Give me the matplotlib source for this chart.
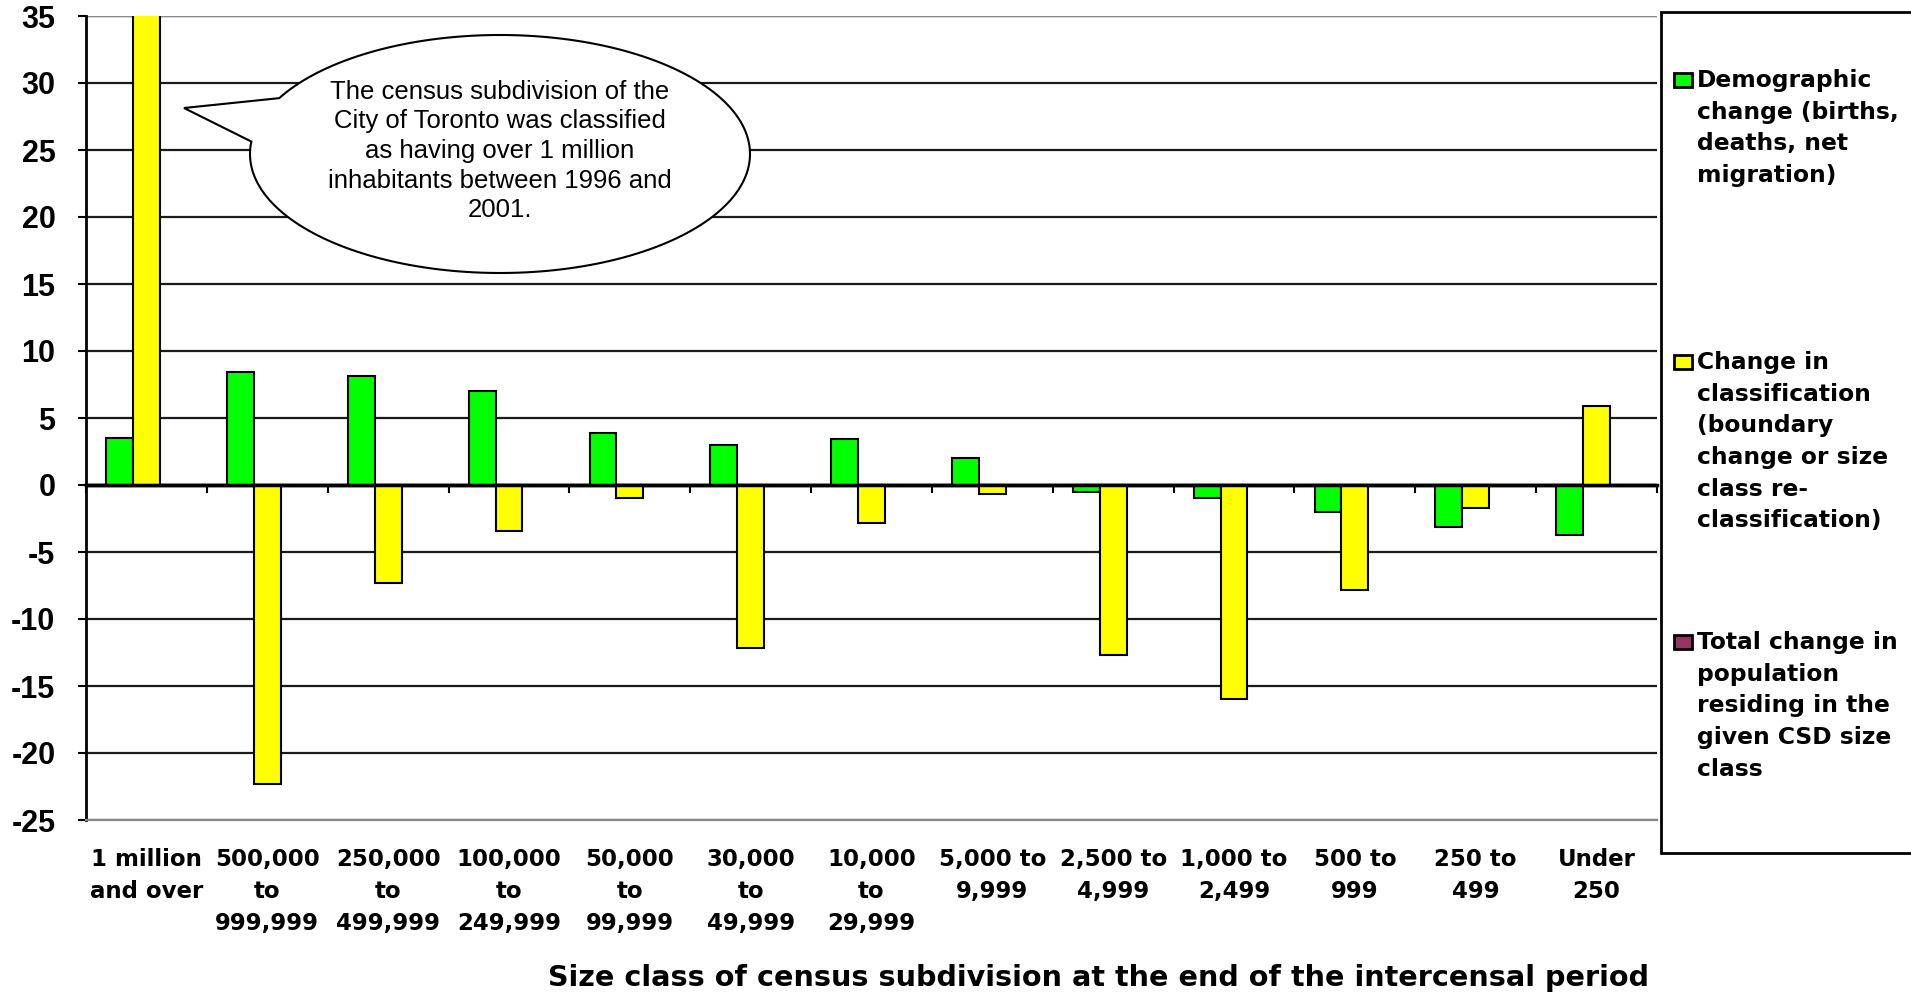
import numpy as np
import matplotlib
matplotlib.use("Agg")
import matplotlib.pyplot as plt
from matplotlib.patches import Rectangle, PathPatch
from matplotlib.path import Path
from matplotlib import transforms

plt.rcParams["axes.unicode_minus"] = False

# size classes (end of intercensal period)
categories = ["1 million\nand over", "500,000\nto\n999,999", "250,000\nto\n499,999",
              "100,000\nto\n249,999", "50,000\nto\n99,999", "30,000\nto\n49,999",
              "10,000\nto\n29,999", "5,000 to\n9,999", "2,500 to\n4,999",
              "1,000 to\n2,499", "500 to\n999", "250 to\n499", "Under\n250"]

demographic = [3.5, 8.4, 8.1, 7.0, 3.9, 2.95, 3.4, 2.0, -0.5, -0.95, -2.05, -3.15, -3.7]
reclass = [40.0, -22.3, -7.35, -3.45, -0.95, -12.2, -2.8, -0.65, -12.7, -15.95, -7.8, -1.7, 5.9]
total = [np.nan] * 13

series_names = ["Demographic\nchange (births,\ndeaths, net\nmigration)",
                "Change in\nclassification\n(boundary\nchange or size\nclass re-\nclassification)",
                "Total change in\npopulation\nresiding in the\ngiven CSD size\nclass"]
colors = ["#00FF00", "#FFFF00", "#993366"]

W, H = 1911, 994
fig = plt.figure(figsize=(W / 100, H / 100), dpi=100)
px = transforms.Affine2D().scale(1 / W, 1 / H) + fig.transFigure  # pixel coords, y up

ax = fig.add_axes([86 / W, 1 - 820 / H, (1657 - 86) / W, (820 - 16) / H])

x = np.arange(len(categories))
bw = 0.222
for i, vals in enumerate([demographic, reclass, total]):
    ax.bar(x + (i - 1) * bw, vals, bw, color=colors[i], edgecolor="black",
           linewidth=1.5, zorder=3)

ax.set_xlim(-0.5, len(categories) - 0.5)
ax.set_ylim(-25, 35)
ax.set_yticks(np.arange(-25, 36, 5))
ax.yaxis.grid(True, color="#1a1a1a", linewidth=1.6, zorder=0)
ax.set_axisbelow(True)

for s in ["top", "right"]:
    ax.spines[s].set_visible(False)
ax.spines["left"].set_linewidth(2)
ax.spines["bottom"].set_color("#888888")
ax.spines["bottom"].set_linewidth(1.6)
ax.axhline(35, color="#888888", linewidth=1.6, zorder=1)

ax.tick_params(axis="y", direction="out", length=6, width=1.5, pad=16)
for lab in ax.get_yticklabels():
    lab.set_fontfamily("Liberation Sans")
    lab.set_fontweight("bold")
    lab.set_fontsize(22)

ax.set_xticks(x)
ax.set_xticklabels(categories, fontfamily="DejaVu Sans", fontweight="bold",
                   fontsize=16.5, linespacing=1.5)
ax.tick_params(axis="x", length=0, pad=20)

# zero line with category separators
zero = ax.secondary_xaxis(25 / 60)
zero.set_xticks(np.arange(len(categories) + 1) - 0.5)
zero.set_xticklabels([])
zero.tick_params(axis="x", direction="out", length=6, width=1.5)
zero.spines["bottom"].set_linewidth(2.5)
ax.axhline(0, color="black", linewidth=2.5, zorder=4)

fig.text(1098 / W, 1 - 978 / H,
         "Size class of census subdivision at the end of the intercensal period",
         ha="center", va="center", fontfamily="DejaVu Sans", fontweight="bold",
         fontsize=20.6)

# callout bubble
cx, cy, a, b = 500, H - 154, 250, 119
t = np.radians(np.linspace(174, 512, 200))
pts = list(zip(cx + a * np.cos(t), cy + b * np.sin(t)))
pts.append((184, H - 108))
pts.append(pts[0])
bubble = Path(pts, [Path.MOVETO] + [Path.LINETO] * (len(pts) - 2) + [Path.CLOSEPOLY])
fig.patches.append(PathPatch(bubble, facecolor="white", edgecolor="black",
                             linewidth=1.5, transform=px, zorder=5))
fig.text(500 / W, 1 - 151 / H,
         "The census subdivision of the\nCity of Toronto was classified\n"
         "as having over 1 million\ninhabitants between 1996 and\n2001.",
         ha="center", va="center", fontfamily="Liberation Sans", fontsize=18.5,
         linespacing=1.3, zorder=6)

# legend box
fig.patches.append(Rectangle((1661, H - 853), 300, 841, transform=px,
                             facecolor="white", edgecolor="black", linewidth=2))
for name, col, top in zip(series_names, colors, [73, 355, 635]):
    fig.patches.append(Rectangle((1674, H - top - 14), 18, 14, transform=px,
                                 facecolor=col, edgecolor="black", linewidth=2))
    fig.text(1697 / W, 1 - (top - 4) / H, name, ha="left", va="top",
             fontfamily="DejaVu Sans", fontweight="bold", fontsize=16.8,
             linespacing=1.48)

fig.savefig("out.png", dpi=100)
